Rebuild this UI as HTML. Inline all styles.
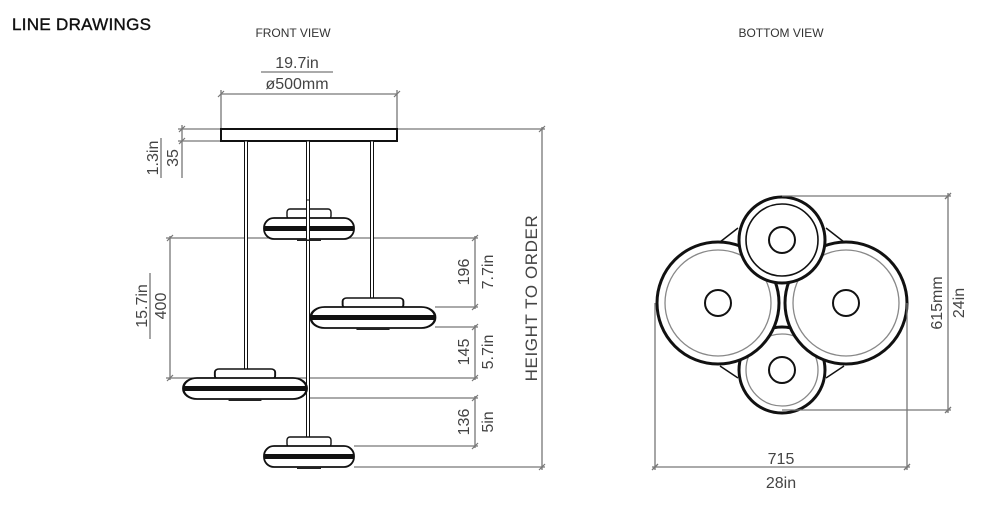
<!DOCTYPE html>
<html><head><meta charset="utf-8"><style>
body{margin:0;background:#fff;}
svg{display:block;font-family:"Liberation Sans",sans-serif;}
</style></head><body>
<svg width="1000" height="513" viewBox="0 0 1000 513" xmlns="http://www.w3.org/2000/svg">
<text x="12" y="30" font-size="17" fill="#111" stroke="#111" stroke-width="0.4" letter-spacing="0.3">LINE DRAWINGS</text>
<text x="293" y="37" font-size="12" fill="#333" text-anchor="middle">FRONT VIEW</text>
<text x="781" y="37" font-size="12" fill="#333" text-anchor="middle">BOTTOM VIEW</text>

<g stroke="#777" stroke-width="1.3" fill="none">
<line x1="221" y1="94" x2="397" y2="94"/>
<line x1="221" y1="90" x2="221" y2="128"/><line x1="397" y1="90" x2="397" y2="128"/>
<line x1="261" y1="72" x2="333" y2="72"/>
<line x1="182" y1="125" x2="182" y2="178"/>
<line x1="178" y1="129" x2="221" y2="129"/><line x1="178" y1="141" x2="221" y2="141"/>
<line x1="161" y1="138" x2="161" y2="178"/>
<line x1="170" y1="236" x2="170" y2="380"/>
<line x1="166" y1="238" x2="478" y2="238"/>
<line x1="166" y1="378" x2="478" y2="378"/>
<line x1="150" y1="273" x2="150" y2="339"/>
<line x1="475" y1="236" x2="475" y2="309"/>
<line x1="435" y1="307" x2="478" y2="307"/>
<line x1="435" y1="327" x2="478" y2="327"/>
<line x1="475" y1="325" x2="475" y2="380"/>
<line x1="306" y1="398" x2="478" y2="398"/>
<line x1="354" y1="446" x2="478" y2="446"/>
<line x1="475" y1="396" x2="475" y2="448"/>
<line x1="397" y1="129" x2="545" y2="129"/>
<line x1="354" y1="467" x2="545" y2="467"/>
<line x1="542" y1="127" x2="542" y2="470"/>
<g stroke-width="1.2">
<line x1="218" y1="97" x2="224" y2="91"/><line x1="394" y1="97" x2="400" y2="91"/>
<line x1="179" y1="132" x2="185" y2="126"/><line x1="179" y1="144" x2="185" y2="138"/>
<line x1="167" y1="241" x2="173" y2="235"/><line x1="167" y1="381" x2="173" y2="375"/>
<line x1="472" y1="241" x2="478" y2="235"/><line x1="472" y1="310" x2="478" y2="304"/>
<line x1="472" y1="330" x2="478" y2="324"/><line x1="472" y1="381" x2="478" y2="375"/>
<line x1="472" y1="401" x2="478" y2="395"/><line x1="472" y1="449" x2="478" y2="443"/>
<line x1="539" y1="132" x2="545" y2="126"/><line x1="539" y1="470" x2="545" y2="464"/>
</g>
</g>
<g font-size="16" fill="#444" text-anchor="middle">
<text x="297" y="68">19.7in</text>
<text x="297" y="89">ø500mm</text>
<text transform="translate(158,158) rotate(-90)">1.3in</text>
<text transform="translate(178,158) rotate(-90)">35</text>
<text transform="translate(147,306) rotate(-90)">15.7in</text>
<text transform="translate(166,306) rotate(-90)">400</text>
<text transform="translate(469,272) rotate(-90)">196</text>
<text transform="translate(493,272) rotate(-90)">7.7in</text>
<text transform="translate(469,352) rotate(-90)">145</text>
<text transform="translate(493,352) rotate(-90)">5.7in</text>
<text transform="translate(469,422) rotate(-90)">136</text>
<text transform="translate(493,422) rotate(-90)">5in</text>
<text transform="translate(537,298) rotate(-90)" font-size="17" letter-spacing="0.6">HEIGHT  TO  ORDER</text>
</g>

<g stroke="#111" fill="#fff">
<rect x="221" y="129" width="176" height="12" stroke-width="2"/>
<rect x="244.5" y="141" width="3" height="228" stroke-width="1"/>
<rect x="306.5" y="141" width="3" height="296" stroke-width="1"/>
<rect x="370.5" y="141" width="3" height="157" stroke-width="1"/>
</g>
<defs>
<g id="pend">
<rect x="-22" y="-9" width="44" height="10" rx="3" fill="#fff" stroke="#111" stroke-width="1.4"/>
<rect x="-45" y="0" width="90" height="21" rx="10" fill="#fff" stroke="#111" stroke-width="1.8"/>
<rect x="-45" y="8" width="90" height="5" fill="#111"/>
<rect x="-12" y="21" width="24" height="2" fill="#222"/>
</g>
</defs>
<use href="#pend" transform="translate(309,218)"/>
<g transform="translate(373,307) scale(1.38,1)"><use href="#pend"/></g>
<g transform="translate(245,378) scale(1.37,1)"><use href="#pend"/></g>
<use href="#pend" transform="translate(309,446)"/>
<rect x="306.5" y="200" width="3" height="40" fill="#fff" stroke="#111" stroke-width="1"/>

<g stroke="#111" stroke-width="1.5" fill="none">
<line x1="720" y1="242" x2="738" y2="228"/><line x1="844" y1="242" x2="826" y2="228"/>
<line x1="720" y1="366" x2="738" y2="378"/><line x1="844" y1="366" x2="826" y2="378"/>
</g>
<g fill="#fff" stroke="#111">
<circle cx="782" cy="370" r="43" stroke-width="3"/>
<circle cx="782" cy="370" r="36" stroke="#888" stroke-width="1.3"/>
<circle cx="782" cy="370" r="13" stroke-width="2"/>
<circle cx="718" cy="303" r="61" stroke-width="3"/>
<circle cx="718" cy="303" r="53" stroke="#888" stroke-width="1.3"/>
<circle cx="718" cy="303" r="13" stroke-width="2"/>
<circle cx="846" cy="303" r="61" stroke-width="3"/>
<circle cx="846" cy="303" r="53" stroke="#888" stroke-width="1.3"/>
<circle cx="846" cy="303" r="13" stroke-width="2"/>
<circle cx="782" cy="240" r="43" stroke-width="3"/>
<circle cx="782" cy="240" r="36" stroke-width="1.6"/>
<circle cx="782" cy="240" r="13" stroke-width="2"/>
</g>
<g stroke="#777" stroke-width="1.3">
<line x1="782" y1="196" x2="951" y2="196"/>
<line x1="782" y1="410" x2="951" y2="410"/>
<line x1="948" y1="193" x2="948" y2="413"/>
<line x1="655" y1="303" x2="655" y2="470"/>
<line x1="907" y1="303" x2="907" y2="470"/>
<line x1="652" y1="467" x2="910" y2="467"/>
<line x1="945" y1="199" x2="951" y2="193"/><line x1="945" y1="413" x2="951" y2="407"/>
<line x1="652" y1="470" x2="658" y2="464"/><line x1="904" y1="470" x2="910" y2="464"/>
</g>
<g font-size="16" fill="#444" text-anchor="middle">
<text x="781" y="464">715</text>
<text x="781" y="488">28in</text>
<text transform="translate(942,303) rotate(-90)">615mm</text>
<text transform="translate(964,303) rotate(-90)">24in</text>
</g>
</svg>
</body></html>
